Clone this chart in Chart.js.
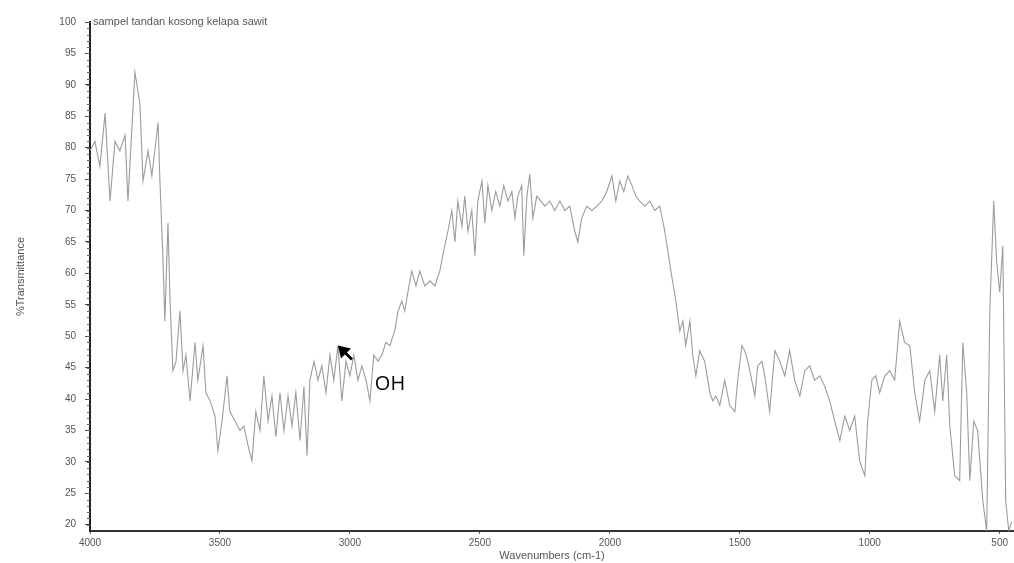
<!DOCTYPE html>
<html>
<head>
<meta charset="utf-8">
<script src="https://cdn.jsdelivr.net/npm/chart.js@4/dist/chart.umd.min.js"></script>
<style>
  html, body { margin: 0; background: #fff; }
  #wrap { width: 1014px; height: 563px; }
</style>
</head>
<body>
<div id="wrap"><canvas id="ftir"></canvas></div>
<script>
// FTIR spectrum, sampel tandan kosong kelapa sawit
const wavenumbers = [
  4000, 3981, 3962, 3942, 3923, 3904, 3885, 3865, 3854, 3827, 3808, 3796, 3777, 3762, 3738, 3731,
  3719, 3712, 3700, 3692, 3681, 3669, 3654, 3642, 3631, 3615, 3596, 3585, 3565, 3554, 3538, 3519,
  3508, 3492, 3473, 3462, 3442, 3423, 3408, 3392, 3377, 3362, 3346, 3331, 3315, 3300, 3285, 3269,
  3254, 3238, 3223, 3208, 3192, 3177, 3165, 3154, 3138, 3123, 3108, 3092, 3077, 3062, 3046, 3031,
  3015, 3000, 2985, 2969, 2954, 2938, 2923, 2908, 2892, 2877, 2862, 2846, 2827, 2815, 2800, 2789,
  2777, 2762, 2746, 2731, 2712, 2692, 2673, 2654, 2639, 2623, 2608, 2596, 2585, 2569, 2558, 2546,
  2531, 2519, 2508, 2492, 2481, 2469, 2454, 2439, 2423, 2408, 2392, 2377, 2365, 2354, 2339, 2331,
  2319, 2308, 2296, 2281, 2265, 2250, 2231, 2212, 2192, 2173, 2154, 2135, 2123, 2108, 2089, 2069,
  2050, 2031, 2012, 1992, 1977, 1962, 1946, 1931, 1915, 1900, 1885, 1865, 1846, 1827, 1808, 1792,
  1777, 1762, 1746, 1731, 1719, 1708, 1692, 1681, 1669, 1654, 1635, 1615, 1604, 1592, 1577, 1558,
  1539, 1519, 1508, 1492, 1481, 1469, 1454, 1442, 1431, 1415, 1404, 1385, 1365, 1346, 1327, 1308,
  1289, 1269, 1250, 1231, 1212, 1192, 1173, 1154, 1135, 1115, 1096, 1077, 1058, 1039, 1019, 1008,
  992, 977, 962, 942, 923, 904, 885, 866, 846, 827, 808, 788, 769, 750, 731, 719,
  704, 692, 673, 654, 642, 627, 615, 600, 585, 565, 550, 538, 523, 512, 500, 488,
  477, 465, 454
];
const transmittance = [
  79.5, 81, 77, 85.5, 71.5, 81, 79.5, 82, 71.5, 92, 87, 74.7, 79.5, 75.5, 84, 74.7,
  62, 52.4, 68, 55.6, 44.5, 46, 54, 44.5, 47, 39.7, 49, 43, 48.5, 41, 39.7, 37.3,
  31.8, 36.5, 43.7, 38, 36.5, 35, 35.7, 32.6, 30.2, 38, 35, 43.7, 36.5, 40.5, 34, 41,
  35, 40.5, 35.7, 41, 33.4, 42, 31, 43, 46, 43, 45.3, 41, 47, 43, 48.5, 39.7,
  46, 43.7, 47, 43, 45.3, 43, 39.7, 47, 46, 47, 49, 48.5, 51, 54, 55.6, 54,
  57, 60.4, 58, 60.4, 58, 58.8, 58, 60.4, 63.6, 66.7, 70, 65, 71.5, 67.5, 72.3, 66.7,
  70, 62.8, 71.5, 74.7, 68, 74, 70, 73, 70.7, 74, 71.5, 73, 68.8, 72.3, 74, 62.8,
  72.3, 75.8, 68.8, 72.3, 71.5, 70.7, 71.5, 70, 71.5, 70, 70.7, 66.7, 65, 68.8, 70.7, 70,
  70.7, 71.5, 73, 75.5, 71.5, 74.7, 73, 75.5, 74, 72.3, 71.5, 70.7, 71.5, 70, 70.7, 67.5,
  63.6, 59.6, 55.6, 50.8, 52.4, 48.5, 52.4, 47, 43.7, 47.7, 46, 41, 39.7, 40.5, 39, 43,
  39, 38, 43, 48.5, 47.7, 46, 43, 40.5, 45.3, 46, 43.7, 38, 47.7, 46, 43.7, 47.7,
  43, 40.5, 44.5, 45.3, 43, 43.7, 42, 39.7, 36.5, 33.4, 37.3, 35, 37.3, 30.2, 27.8, 36.5,
  43, 43.7, 41, 43.7, 44.5, 43, 52.4, 49, 48.5, 41, 36.5, 43, 44.5, 38, 47, 39.7,
  47, 35.7, 27.8, 27, 49, 41, 27, 36.5, 35, 23.8, 19, 54, 71.5, 62, 57, 64.4,
  23.8, 19, 20.5
];
const xTickValues = [4000, 3500, 3000, 2500, 2000, 1500, 1000, 500];
const yTickValues = [20, 25, 30, 35, 40, 45, 50, 55, 60, 65, 70, 75, 80, 85, 90, 95, 100];
const sampleName = 'sampel tandan kosong kelapa sawit';
const peakName = 'OH';
const peakArrow = { x: 3046, y: 48.5 };
const peakText = { x: 2904, y: 42.4 };

const points = wavenumbers.map((w, i) => ({ x: w, y: transmittance[i] }));

// Titel im Plot, kleine Striche an der y-Achse, Pfeil und OH-Beschriftung
const notes = {
  id: 'notes',
  afterDatasetsDraw(chart) {
    const { ctx, chartArea, scales: { x, y } } = chart;
    ctx.save();
    ctx.fillStyle = '#555';
    ctx.font = '11px "Liberation Sans", Arial, sans-serif';
    ctx.textBaseline = 'middle';
    ctx.fillText(sampleName, chartArea.left + 3, y.getPixelForValue(100));

    ctx.strokeStyle = '#666';
    ctx.lineWidth = 1;
    ctx.beginPath();
    for (let v = 20; v <= 100; v += 1) {
      const py = Math.round(y.getPixelForValue(v)) + 0.5;
      ctx.moveTo(chartArea.left - 3, py);
      ctx.lineTo(chartArea.left, py);
    }
    ctx.stroke();

    const tx = x.getPixelForValue(peakArrow.x);
    const ty = y.getPixelForValue(peakArrow.y);
    ctx.fillStyle = '#000';
    ctx.beginPath();
    ctx.moveTo(tx, ty);
    ctx.lineTo(tx + 3, ty + 13);
    ctx.lineTo(tx + 7, ty + 9);
    ctx.lineTo(tx + 13, ty + 15);
    ctx.lineTo(tx + 15, ty + 13);
    ctx.lineTo(tx + 9, ty + 7);
    ctx.lineTo(tx + 13, ty + 3);
    ctx.closePath();
    ctx.fill();

    const ox = x.getPixelForValue(peakText.x);
    const oy = y.getPixelForValue(peakText.y);
    ctx.font = '20px "Open Sans", "DejaVu Sans", sans-serif';
    const w = ctx.measureText(peakName).width;
    ctx.fillStyle = '#fff';
    ctx.fillRect(ox - 2, oy - 13, w + 4, 26);
    ctx.fillStyle = '#000';
    ctx.fillText(peakName, ox, oy);
    ctx.restore();
  }
};

new Chart(document.getElementById('ftir'), {
  type: 'line',
  data: {
    datasets: [{
      data: points,
      borderColor: '#9c9c9c',
      borderWidth: 1.1,
      pointRadius: 0,
      tension: 0,
      fill: false
    }]
  },
  options: {
    responsive: true,
    maintainAspectRatio: false,
    animation: false,
    layout: { padding: { top: 22, right: 0, left: 0, bottom: 0 } },
    plugins: { legend: { display: false }, tooltip: { enabled: false } },
    scales: {
      x: {
        type: 'linear',
        reverse: true,
        min: 445,
        max: 4000,
        afterBuildTicks: (scale) => { scale.ticks = xTickValues.map(v => ({ value: v })); },
        afterFit: (scale) => { scale.height = 32; },
        border: { color: '#333', width: 2 },
        grid: { display: true, drawOnChartArea: false, drawTicks: true, tickLength: 3, color: '#666' },
        ticks: {
          color: '#555',
          padding: 3,
          maxRotation: 0,
          callback: (v) => String(v),
          font: { family: '"Liberation Sans", Arial, sans-serif', size: 10 }
        },
        title: {
          display: true,
          text: 'Wavenumbers (cm-1)',
          color: '#555',
          padding: { top: 0, bottom: 0 },
          font: { family: '"Liberation Sans", Arial, sans-serif', size: 11 }
        }
      },
      y: {
        min: 19,
        max: 100,
        afterBuildTicks: (scale) => { scale.ticks = yTickValues.map(v => ({ value: v })); },
        afterFit: (scale) => { scale.width = 90; },
        border: { color: '#222', width: 2 },
        grid: { display: true, drawOnChartArea: false, drawTicks: true, tickLength: 5, color: '#444' },
        ticks: {
          color: '#555',
          padding: 9,
          font: { family: '"Liberation Sans", Arial, sans-serif', size: 10 }
        },
        title: {
          display: true,
          text: '%Transmittance',
          color: '#555',
          padding: { top: 14, bottom: 0 },
          font: { family: '"Liberation Sans", Arial, sans-serif', size: 11 }
        }
      }
    }
  },
  plugins: [notes]
});
</script>
</body>
</html>
